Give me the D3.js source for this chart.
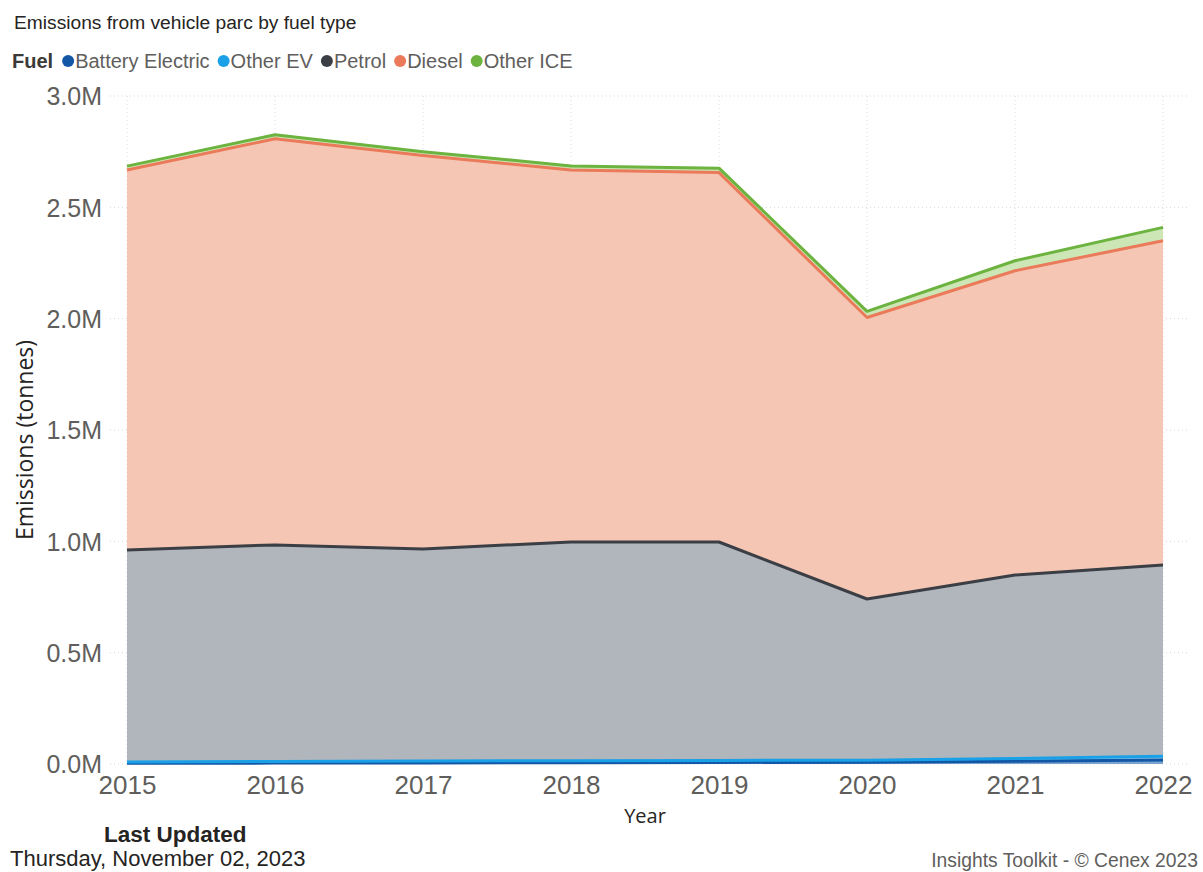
<!DOCTYPE html>
<html>
<head>
<meta charset="utf-8">
<script src="https://cdn.jsdelivr.net/npm/d3@7"></script>
<style>
  html, body { margin: 0; padding: 0; background: #fff; }
  svg { display: block; }
</style>
</head>
<body>
<svg id="chart" width="1203" height="872"></svg>
<script>
// ---- data (millions of tonnes) ----
const years = [2015, 2016, 2017, 2018, 2019, 2020, 2021, 2022];
const fuels = ["Battery Electric", "Other EV", "Petrol", "Diesel", "Other ICE"];
const batteryElectric = [0.003, 0.004, 0.005, 0.006, 0.007, 0.008, 0.012, 0.018];
const otherEV        = [0.006, 0.007, 0.008, 0.009, 0.009, 0.009, 0.013, 0.017];
const petrol         = [0.952, 0.973, 0.953, 0.982, 0.981, 0.724, 0.824, 0.859];
const diesel         = [1.707, 1.824, 1.767, 1.671, 1.659, 1.264, 1.366, 1.456];
const otherICE       = [0.017, 0.018, 0.017, 0.018, 0.020, 0.028, 0.045, 0.060];
const yTicks = [0, 0.5, 1.0, 1.5, 2.0, 2.5, 3.0];

const lineColors = ["#1257a6", "#1aa0e6", "#3b3f45", "#ea7a59", "#6cb33f"];
const fillColors = ["#7aa3d0", "#8fd0f2", "#b1b6bd", "#f5c6b3", "#cde6b6"];

const rows = years.map((yr, i) => ({
  year: yr,
  "Battery Electric": batteryElectric[i],
  "Other EV": otherEV[i],
  "Petrol": petrol[i],
  "Diesel": diesel[i],
  "Other ICE": otherICE[i]
}));

const svg = d3.select("#chart");
const plotLeft = 127, plotRight = 1163, plotTop = 96, plotBottom = 764;
const sans = "'Liberation Sans', Arial, sans-serif";

const x = d3.scaleLinear().domain([2015, 2022]).range([plotLeft, plotRight]);
const y = d3.scaleLinear().domain([0, 3.0]).range([plotBottom, plotTop]);

const stack = d3.stack().keys(fuels);
const series = stack(rows);

// gridlines
const grid = svg.append("g");
grid.selectAll("line.h").data(yTicks).join("line")
  .attr("x1", 110).attr("x2", 1190)
  .attr("y1", d => y(d)).attr("y2", d => y(d))
  .attr("stroke", "#d6d6d6").attr("stroke-width", 1)
  .attr("stroke-dasharray", "1,3");
grid.selectAll("line.v").data(years).join("line")
  .attr("x1", d => x(d)).attr("x2", d => x(d))
  .attr("y1", plotTop).attr("y2", plotBottom)
  .attr("stroke", "#dcdcdc").attr("stroke-width", 1)
  .attr("stroke-dasharray", "1,3");

// areas
const area = d3.area()
  .x(d => x(d.data.year))
  .y0(d => y(d[0]))
  .y1(d => y(d[1]));
const line = d3.line()
  .x(d => x(d.data.year))
  .y(d => y(d[1]));

svg.append("g").selectAll("path").data(series).join("path")
  .attr("d", area)
  .attr("fill", (d, i) => fillColors[i]);

svg.append("g").selectAll("path").data(series).join("path")
  .attr("d", line)
  .attr("fill", "none")
  .attr("stroke", (d, i) => lineColors[i])
  .attr("stroke-width", 3)
  .attr("stroke-linejoin", "round");

// y axis
const yAxis = d3.axisLeft(y).tickValues(yTicks)
  .tickFormat(d => d3.format(".1f")(d) + "M").tickSize(0).tickPadding(0);
const gy = svg.append("g").attr("transform", `translate(102,0)`).call(yAxis);
gy.select(".domain").remove();
gy.selectAll("text")
  .attr("font-family", sans)
  .attr("font-size", 25).attr("fill", "#605e5c")
  .attr("dy", "0.35em");

// x axis
const xAxis = d3.axisBottom(x).tickValues(years).tickFormat(d3.format("d")).tickSize(0).tickPadding(0);
const gx = svg.append("g").attr("transform", `translate(0,${plotBottom})`).call(xAxis);
gx.select(".domain").remove();
gx.selectAll("text")
  .attr("font-family", sans)
  .attr("font-size", 26).attr("fill", "#605e5c")
  .attr("y", 30).attr("dy", 0);

// axis titles
svg.append("text").attr("x", 645).attr("y", 823)
  .attr("text-anchor", "middle")
  .attr("font-family", "'Open Sans', sans-serif").attr("font-size", 20)
  .attr("fill", "#252423").text("Year");
svg.append("text")
  .attr("transform", "translate(33,440) rotate(-90)")
  .attr("text-anchor", "middle")
  .attr("font-family", "'Open Sans', sans-serif").attr("font-size", 23)
  .attr("fill", "#252423").text("Emissions (tonnes)");

// title
svg.append("text").attr("x", 14).attr("y", 29)
  .attr("font-family", sans).attr("font-size", 19.2)
  .attr("fill", "#252423").text("Emissions from vehicle parc by fuel type");

// legend
const legend = svg.append("g").attr("font-family", sans).attr("font-size", 20);
const fuelLbl = legend.append("text").attr("x", 12).attr("y", 68)
  .attr("font-weight", "bold").attr("fill", "#3b3a39").text("Fuel");
let lx = 12 + fuelLbl.node().getComputedTextLength() + 9;
fuels.forEach((f, i) => {
  legend.append("circle").attr("cx", lx + 6).attr("cy", 61).attr("r", 6).attr("fill", lineColors[i]);
  const t = legend.append("text").attr("x", lx + 13).attr("y", 68).attr("fill", "#605e5c").text(f);
  lx += 13 + t.node().getComputedTextLength() + 8;
});

// footer
svg.append("text").attr("x", 104).attr("y", 842)
  .attr("font-family", sans).attr("font-size", 22.5)
  .attr("font-weight", "bold").attr("fill", "#252423").text("Last Updated");
svg.append("text").attr("x", 10).attr("y", 866)
  .attr("font-family", sans).attr("font-size", 22)
  .attr("fill", "#252423").text("Thursday, November 02, 2023");
svg.append("text").attr("x", 1198).attr("y", 867).attr("text-anchor", "end")
  .attr("font-family", sans).attr("font-size", 19.3)
  .attr("fill", "#605e5c").text("Insights Toolkit - © Cenex 2023");
</script>
</body>
</html>
